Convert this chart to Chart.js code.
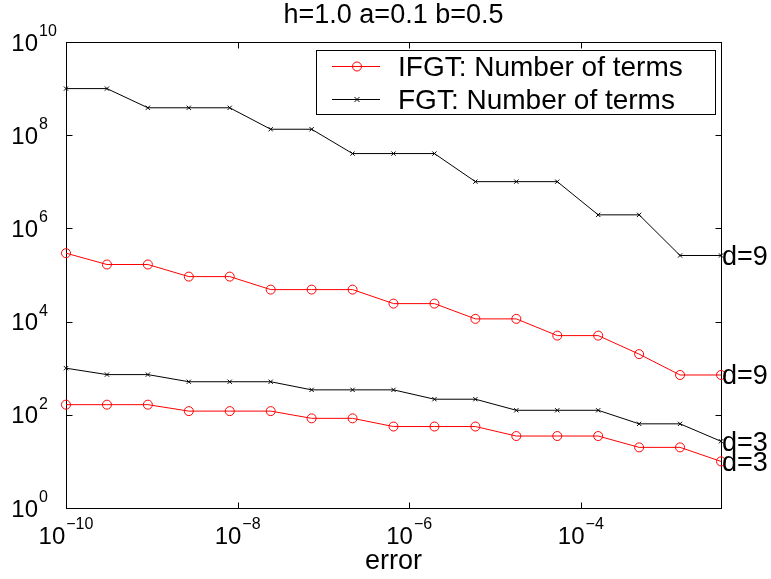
<!DOCTYPE html>
<html>
<head>
<meta charset="utf-8">
<script src="https://cdn.jsdelivr.net/npm/chart.js@4.4.0/dist/chart.umd.min.js"></script>
<style>
  html, body { margin: 0; padding: 0; background: #fff; }
  #wrap { width: 771px; height: 579px; }
</style>
</head>
<body>
<div id="wrap"><canvas id="chart" width="771" height="579"></canvas></div>
<script>
// x: error tolerance (steps of ~3x)
const errors = [1e-10, 3e-10, 9e-10, 2.7e-9, 8.1e-9, 2.43e-8, 7.29e-8, 2.187e-7, 6.561e-7,
  1.9683e-6, 5.9049e-6, 1.77147e-5, 5.31441e-5, 1.594323e-4, 4.782969e-4, 1.4348907e-3, 4.3046721e-3];

// number of terms
const ifgtD9 = [293930, 167960, 167960, 92378, 92378, 48620, 48620, 48620, 24310, 24310,
  11440, 11440, 5005, 5005, 2002, 715, 715];
const fgtD9 = [1e9, 1e9, 387420489, 387420489, 387420489, 134217728, 134217728, 40353607, 40353607,
  40353607, 10077696, 10077696, 10077696, 1953125, 1953125, 262144, 262144];
const ifgtD3 = [165, 165, 165, 120, 120, 120, 84, 84, 56, 56, 56, 35, 35, 35, 20, 20, 10];
const fgtD3 = [1000, 729, 729, 512, 512, 512, 343, 343, 343, 216, 216, 125, 125, 125, 64, 64, 27];

// tick positions and their exponent labels
const xTicks = [1e-10, 1e-8, 1e-6, 1e-4];
const xTickExp = ['\u221210', '\u22128', '\u22126', '\u22124'];
const yTicks = [1, 1e2, 1e4, 1e6, 1e8, 1e10];
const yTickExp = ['0', '2', '4', '6', '8', '10'];

const titleText = 'h=1.0 a=0.1 b=0.5';
const xLabel = 'error';
const legendLabels = ['IFGT: Number of terms', 'FGT: Number of terms'];
const endLabels = ['d=9', 'd=9', 'd=3', 'd=3'];

const FONT = '"Liberation Sans", Arial, Helvetica, sans-serif';
const RED = '#ff0000';
const BLACK = '#000000';

const toPoints = arr => arr.map((v, i) => ({ x: errors[i], y: v }));

const ifgtStyle = {
  borderColor: RED, borderWidth: 1, pointStyle: 'circle', pointRadius: 4.5,
  pointBorderColor: RED, pointBackgroundColor: 'rgba(0,0,0,0)', pointBorderWidth: 1
};
const fgtStyle = {
  borderColor: BLACK, borderWidth: 1, pointStyle: 'crossRot', pointRadius: 3,
  pointBorderColor: BLACK, pointBorderWidth: 1
};

function drawMarker(ctx, style, x, y) {
  ctx.save();
  ctx.lineWidth = 1;
  if (style === 'circle') {
    ctx.strokeStyle = RED;
    ctx.beginPath();
    ctx.arc(x, y, 4.5, 0, Math.PI * 2);
    ctx.stroke();
  } else {
    ctx.strokeStyle = BLACK;
    ctx.beginPath();
    ctx.moveTo(x - 2.5, y - 2.5); ctx.lineTo(x + 2.5, y + 2.5);
    ctx.moveTo(x + 2.5, y - 2.5); ctx.lineTo(x - 2.5, y + 2.5);
    ctx.stroke();
  }
  ctx.restore();
}

// axes box, inward ticks, power-of-ten labels, title, legend, d= labels
const decorations = {
  id: 'decorations',
  beforeDatasetsDraw(chart) {
    const { ctx, chartArea: a, scales: { x, y } } = chart;
    const L = Math.round(a.left) + 0.5, R = Math.round(a.right) + 0.5;
    const T = Math.round(a.top) + 0.5, B = Math.round(a.bottom) + 0.5;
    ctx.save();
    ctx.strokeStyle = BLACK;
    ctx.lineWidth = 1;
    ctx.strokeRect(L, T, R - L, B - T);
    ctx.beginPath();
    xTicks.forEach(v => {
      const px = Math.round(x.getPixelForValue(v)) + 0.5;
      ctx.moveTo(px, B); ctx.lineTo(px, B - 6);
      ctx.moveTo(px, T); ctx.lineTo(px, T + 6);
    });
    yTicks.forEach(v => {
      const py = Math.round(y.getPixelForValue(v)) + 0.5;
      ctx.moveTo(L, py); ctx.lineTo(L + 6, py);
      ctx.moveTo(R, py); ctx.lineTo(R - 6, py);
    });
    ctx.stroke();
    ctx.restore();
  },
  afterDraw(chart) {
    const { ctx, chartArea: a, scales: { x, y } } = chart;
    ctx.save();
    ctx.fillStyle = BLACK;
    ctx.textBaseline = 'alphabetic';

    // x tick labels
    xTicks.forEach((v, i) => {
      const px = x.getPixelForValue(v);
      ctx.font = '24px ' + FONT;
      const wb = ctx.measureText('10').width;
      ctx.font = '16px ' + FONT;
      const we = ctx.measureText(xTickExp[i]).width;
      const start = px - (wb + we + 1) / 2;
      ctx.textAlign = 'left';
      ctx.font = '24px ' + FONT;
      ctx.fillText('10', start, a.bottom + 36);
      ctx.font = '16px ' + FONT;
      ctx.fillText(xTickExp[i], start + wb + 1, a.bottom + 21);
    });

    // y tick labels
    yTicks.forEach((v, i) => {
      const py = y.getPixelForValue(v);
      ctx.font = '24px ' + FONT;
      ctx.textAlign = 'right';
      ctx.fillText('10', a.left - 28, py + 8.5);
      ctx.font = '16px ' + FONT;
      ctx.textAlign = 'left';
      ctx.fillText(yTickExp[i], a.left - 27, py - 6);
    });

    // title and axis label
    ctx.textAlign = 'center';
    ctx.font = '27px ' + FONT;
    ctx.fillText(titleText, (a.left + a.right) / 2, 23);
    ctx.fillText(xLabel, (a.left + a.right) / 2, 569);

    // labels at the end of each curve
    ctx.textAlign = 'left';
    ctx.textBaseline = 'middle';
    ctx.font = '27px ' + FONT;
    chart.data.datasets.forEach((ds, i) => {
      const last = ds.data[ds.data.length - 1];
      ctx.fillText(endLabels[i], x.getPixelForValue(last.x) + 1, y.getPixelForValue(last.y) + 2);
    });

    // legend
    const bx = 316.5, by = 50.5, bw = 399, bh = 64;
    ctx.fillStyle = '#fff';
    ctx.fillRect(bx, by, bw, bh);
    ctx.strokeStyle = BLACK;
    ctx.lineWidth = 1;
    ctx.strokeRect(bx, by, bw, bh);
    const rows = [{ y: 66, color: RED, marker: 'circle', base: 76 }, { y: 99, color: BLACK, marker: 'cross', base: 109 }];
    rows.forEach((r, i) => {
      ctx.strokeStyle = r.color;
      ctx.beginPath();
      ctx.moveTo(332, r.y + 0.5); ctx.lineTo(380, r.y + 0.5);
      ctx.stroke();
      drawMarker(ctx, r.marker, 357, r.y + 0.5);
      ctx.fillStyle = BLACK;
      ctx.textBaseline = 'alphabetic';
      ctx.textAlign = 'left';
      ctx.font = '28px ' + FONT;
      ctx.fillText(legendLabels[i], 398, r.base);
    });
    ctx.restore();
  }
};

new Chart(document.getElementById('chart'), {
  type: 'line',
  data: {
    datasets: [
      Object.assign({ label: 'FGT d=9', data: toPoints(fgtD9) }, fgtStyle),
      Object.assign({ label: 'IFGT d=9', data: toPoints(ifgtD9) }, ifgtStyle),
      Object.assign({ label: 'FGT d=3', data: toPoints(fgtD3) }, fgtStyle),
      Object.assign({ label: 'IFGT d=3', data: toPoints(ifgtD3) }, ifgtStyle)
    ]
  },
  options: {
    responsive: false,
    animation: false,
    clip: false,
    layout: { padding: { left: 66, right: 50, top: 42, bottom: 71 } },
    plugins: {
      legend: { display: false },
      title: { display: false },
      tooltip: { enabled: false }
    },
    scales: {
      x: { type: 'logarithmic', min: errors[0], max: errors[errors.length - 1], display: false },
      y: { type: 'logarithmic', min: 1, max: 1e10, display: false }
    }
  },
  plugins: [decorations]
});
</script>
</body>
</html>
